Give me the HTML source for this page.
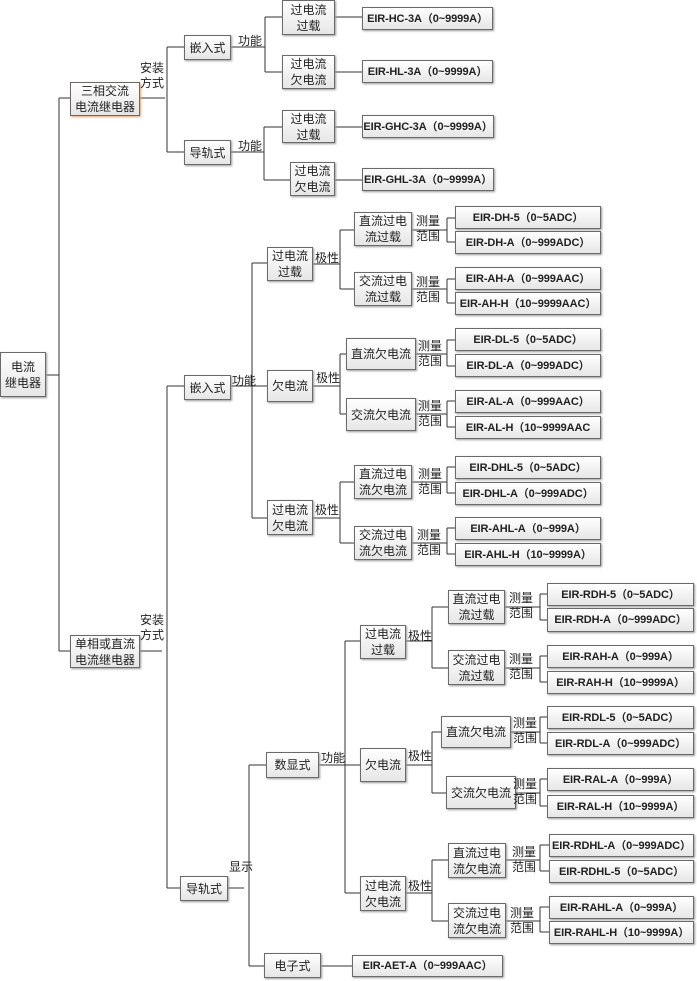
<!DOCTYPE html>
<html><head><meta charset="utf-8">
<style>
html,body{margin:0;padding:0;background:#fff;}
body{width:697px;height:981px;position:relative;overflow:hidden;font-family:"Liberation Sans","Noto Sans CJK SC",sans-serif;color:#222;}
.b{position:absolute;box-sizing:border-box;border:1px solid #6a6a6a;background:linear-gradient(#ffffff,#e6e6e6);box-shadow:1px 1px 2px #999;display:flex;align-items:center;justify-content:center;text-align:center;font-size:12px;line-height:16px;}
.e{font-weight:bold;font-size:11px;letter-spacing:-0.1px;white-space:nowrap;}
.t{position:absolute;font-size:12px;line-height:15px;}
svg{position:absolute;left:0;top:0;}
</style></head><body>
<svg width="697" height="981"><g stroke="#333" stroke-width="1" fill="none" shape-rendering="crispEdges">
<path d="M46 375H59M59 98V651M59 98H70M59 651H70"/>
<path d="M140 98H165M167 47V152M167 47H184M167 152H184"/>
<path d="M231 47H265M265 17V72M265 17H282M265 72H282M335 17H362M335 72H362"/>
<path d="M231 152H264M264 127V180M264 127H282M264 180H290M335 127H362M335 180H362"/>
<path d="M140 651H162M167 386V888M167 386H184M167 888H180"/>
<path d="M231 386H252M252 263V518M252 263H267M252 386H267M252 518H267"/>
<path d="M313 264H340M340 230V289M340 230H354M340 289H354"/>
<path d="M313 386H340M340 354V414M340 354H346M340 414H346"/>
<path d="M313 518H340M340 482V543M340 482H354M340 543H354"/>
<path d="M412 230H447M447 218V242M447 218H455M447 242H455"/>
<path d="M412 289H447M447 279V303M447 279H455M447 303H455"/>
<path d="M416 354H447M447 340V366M447 340H455M447 366H455"/>
<path d="M416 414H447M447 401V427M447 401H455M447 427H455"/>
<path d="M412 482H447M447 467V493M447 467H455M447 493H455"/>
<path d="M412 543H447M447 528V554M447 528H455M447 554H455"/>
<path d="M228 888H244M249 765V966M249 765H266M249 966H264M321 966H352"/>
<path d="M319 765H345M345 641V893M345 641H360M345 765H360M345 893H360"/>
<path d="M406 641H432M432 607V668M432 607H448M432 668H448"/>
<path d="M406 765H432M432 732V793M432 732H441M432 793H446"/>
<path d="M406 893H432M432 860V921M432 860H448M432 921H448"/>
<path d="M505 607H540M540 594V620M540 594H547M540 620H547"/>
<path d="M505 668H540M540 656V682M540 656H547M540 682H547"/>
<path d="M511 732H540M540 717V743M540 717H547M540 743H547"/>
<path d="M516 793H540M540 779V806M540 779H547M540 806H547"/>
<path d="M506 860H540M540 845V871M540 845H549M540 871H549"/>
<path d="M506 921H540M540 907V932M540 907H549M540 932H549"/>
</g></svg>

<div class="b" style="left:0;top:352px;width:46px;height:45px">电流<br>继电器</div>
<div class="b" style="left:70px;top:82px;width:70px;height:34px;box-shadow:1px 1px 2px #e0a070">三相交流<br>电流继电器</div>
<div class="t" style="left:140px;top:61px">安装<br>方式</div>
<div class="b" style="left:184px;top:35px;width:47px;height:25px">嵌入式</div>
<div class="b" style="left:184px;top:140px;width:47px;height:25px">导轨式</div>
<div class="t" style="left:238px;top:34px">功能</div>
<div class="t" style="left:238px;top:139px">功能</div>
<div class="b" style="left:282px;top:0;width:53px;height:35px">过电流<br>过载</div>
<div class="b" style="left:282px;top:55px;width:53px;height:34px">过电流<br>欠电流</div>
<div class="b" style="left:282px;top:110px;width:53px;height:33px">过电流<br>过载</div>
<div class="b" style="left:290px;top:162px;width:45px;height:34px">过电流<br>欠电流</div>
<div class="b e" style="left:362px;top:7px;width:131px;height:23px">EIR-HC-3A（0~9999A）</div>
<div class="b e" style="left:362px;top:60px;width:131px;height:23px">EIR-HL-3A（0~9999A）</div>
<div class="b e" style="left:362px;top:115px;width:132px;height:23px">EIR-GHC-3A（0~9999A）</div>
<div class="b e" style="left:362px;top:168px;width:132px;height:23px">EIR-GHL-3A（0~9999A）</div>

<div class="b" style="left:70px;top:635px;width:70px;height:33px">单相或直流<br>电流继电器</div>
<div class="t" style="left:140px;top:613px">安装<br>方式</div>
<div class="b" style="left:184px;top:375px;width:47px;height:25px">嵌入式</div>
<div class="t" style="left:232px;top:374px">功能</div>
<div class="b" style="left:267px;top:247px;width:46px;height:34px">过电流<br>过载</div>
<div class="b" style="left:267px;top:370px;width:46px;height:32px">欠电流</div>
<div class="b" style="left:267px;top:500px;width:46px;height:35px">过电流<br>欠电流</div>
<div class="t" style="left:315px;top:251px">极性</div>
<div class="t" style="left:316px;top:371px">极性</div>
<div class="t" style="left:315px;top:503px">极性</div>
<div class="b" style="left:354px;top:212px;width:58px;height:34px">直流过电<br>流过载</div>
<div class="b" style="left:354px;top:272px;width:58px;height:34px">交流过电<br>流过载</div>
<div class="b" style="left:346px;top:338px;width:70px;height:32px">直流欠电流</div>
<div class="b" style="left:346px;top:398px;width:70px;height:33px">交流欠电流</div>
<div class="b" style="left:354px;top:465px;width:58px;height:34px">直流过电<br>流欠电流</div>
<div class="b" style="left:354px;top:526px;width:58px;height:34px">交流过电<br>流欠电流</div>
<div class="t" style="left:416px;top:214px">测量<br>范围</div>
<div class="t" style="left:416px;top:275px">测量<br>范围</div>
<div class="t" style="left:418px;top:339px">测量<br>范围</div>
<div class="t" style="left:418px;top:399px">测量<br>范围</div>
<div class="t" style="left:418px;top:467px">测量<br>范围</div>
<div class="t" style="left:417px;top:528px">测量<br>范围</div>
<div class="b e" style="left:455px;top:206px;width:146px;height:23px">EIR-DH-5（0~5ADC）</div>
<div class="b e" style="left:455px;top:231px;width:146px;height:23px">EIR-DH-A（0~999ADC）</div>
<div class="b e" style="left:455px;top:267px;width:146px;height:23px">EIR-AH-A（0~999AAC）</div>
<div class="b e" style="left:455px;top:292px;width:146px;height:23px">EIR-AH-H（10~9999AAC）</div>
<div class="b e" style="left:455px;top:328px;width:146px;height:23px">EIR-DL-5（0~5ADC）</div>
<div class="b e" style="left:455px;top:354px;width:146px;height:23px">EIR-DL-A（0~999ADC）</div>
<div class="b e" style="left:455px;top:390px;width:146px;height:23px">EIR-AL-A（0~999AAC）</div>
<div class="b e" style="left:455px;top:416px;width:146px;height:23px">EIR-AL-H（10~9999AAC</div>
<div class="b e" style="left:455px;top:456px;width:146px;height:23px">EIR-DHL-5（0~5ADC）</div>
<div class="b e" style="left:455px;top:482px;width:146px;height:23px">EIR-DHL-A（0~999ADC）</div>
<div class="b e" style="left:455px;top:517px;width:146px;height:23px">EIR-AHL-A（0~999A）</div>
<div class="b e" style="left:455px;top:543px;width:146px;height:23px">EIR-AHL-H（10~9999A）</div>

<div class="b" style="left:180px;top:876px;width:48px;height:25px">导轨式</div>
<div class="t" style="left:229px;top:860px">显示</div>
<div class="b" style="left:266px;top:752px;width:53px;height:26px">数显式</div>
<div class="t" style="left:321px;top:751px">功能</div>
<div class="b" style="left:264px;top:953px;width:57px;height:25px">电子式</div>
<div class="b e" style="left:352px;top:955px;width:151px;height:22px">EIR-AET-A（0~999AAC）</div>
<div class="b" style="left:360px;top:625px;width:46px;height:34px">过电流<br>过载</div>
<div class="b" style="left:360px;top:748px;width:46px;height:34px">欠电流</div>
<div class="b" style="left:360px;top:876px;width:46px;height:35px">过电流<br>欠电流</div>
<div class="t" style="left:408px;top:629px">极性</div>
<div class="t" style="left:408px;top:749px">极性</div>
<div class="t" style="left:408px;top:879px">极性</div>
<div class="b" style="left:448px;top:590px;width:57px;height:34px">直流过电<br>流过载</div>
<div class="b" style="left:448px;top:650px;width:57px;height:35px">交流过电<br>流过载</div>
<div class="b" style="left:441px;top:716px;width:70px;height:32px">直流欠电流</div>
<div class="b" style="left:446px;top:776px;width:70px;height:33px">交流欠电流</div>
<div class="b" style="left:448px;top:843px;width:58px;height:35px">直流过电<br>流欠电流</div>
<div class="b" style="left:448px;top:903px;width:58px;height:35px">交流过电<br>流欠电流</div>
<div class="t" style="left:509px;top:591px">测量<br>范围</div>
<div class="t" style="left:509px;top:652px">测量<br>范围</div>
<div class="t" style="left:513px;top:716px">测量<br>范围</div>
<div class="t" style="left:513px;top:777px">测量<br>范围</div>
<div class="t" style="left:512px;top:845px">测量<br>范围</div>
<div class="t" style="left:510px;top:906px">测量<br>范围</div>
<div class="b e" style="left:547px;top:583px;width:147px;height:23px">EIR-RDH-5（0~5ADC）</div>
<div class="b e" style="left:547px;top:608px;width:147px;height:24px">EIR-RDH-A（0~999ADC）</div>
<div class="b e" style="left:547px;top:645px;width:147px;height:23px">EIR-RAH-A（0~999A）</div>
<div class="b e" style="left:547px;top:671px;width:147px;height:23px">EIR-RAH-H（10~9999A）</div>
<div class="b e" style="left:547px;top:706px;width:147px;height:23px">EIR-RDL-5（0~5ADC）</div>
<div class="b e" style="left:547px;top:732px;width:147px;height:23px">EIR-RDL-A（0~999ADC）</div>
<div class="b e" style="left:547px;top:768px;width:147px;height:23px">EIR-RAL-A（0~999A）</div>
<div class="b e" style="left:547px;top:795px;width:147px;height:23px">EIR-RAL-H（10~9999A）</div>
<div class="b e" style="left:549px;top:834px;width:145px;height:23px">EIR-RDHL-A（0~999ADC）</div>
<div class="b e" style="left:549px;top:860px;width:145px;height:23px">EIR-RDHL-5（0~5ADC）</div>
<div class="b e" style="left:549px;top:896px;width:145px;height:23px">EIR-RAHL-A（0~999A）</div>
<div class="b e" style="left:549px;top:921px;width:145px;height:23px">EIR-RAHL-H（10~9999A）</div>
</body></html>
